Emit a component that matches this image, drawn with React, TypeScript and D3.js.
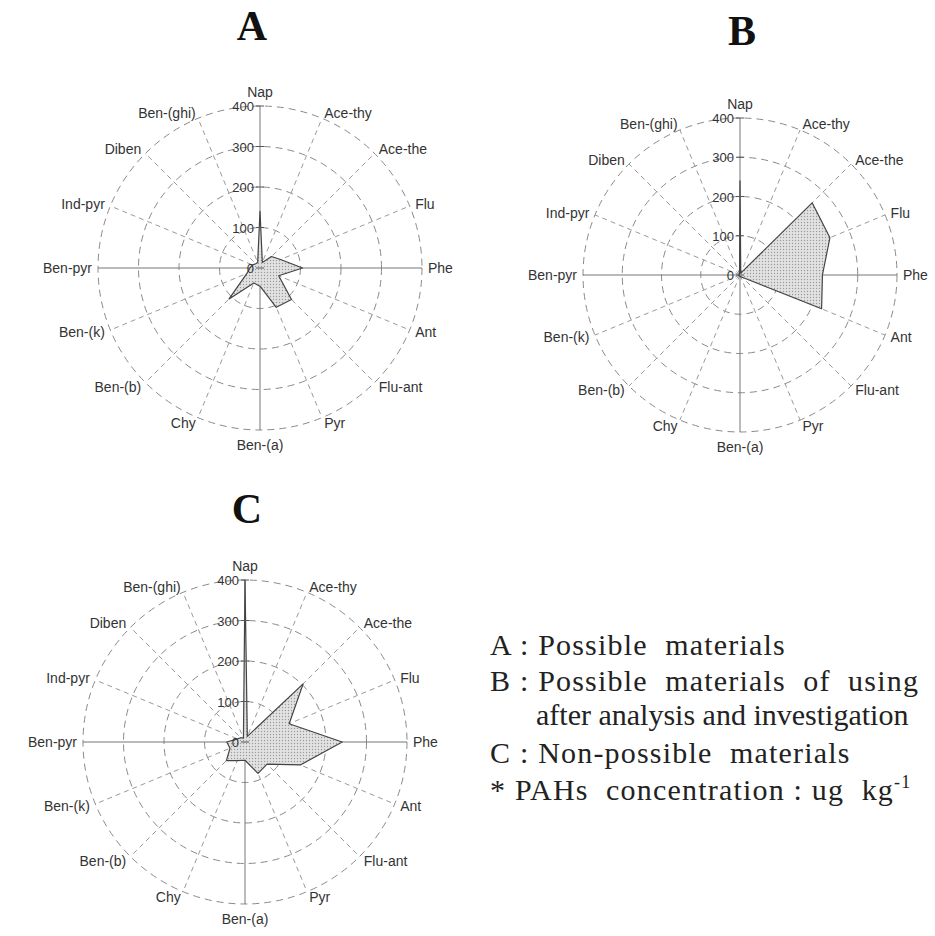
import { useEffect } from 'react'
import * as d3 from 'd3'

// PAH compounds, clockwise from the top
const compounds = ['Nap', 'Ace-thy', 'Ace-the', 'Flu', 'Phe', 'Ant', 'Flu-ant', 'Pyr', 'Ben-(a)', 'Chy', 'Ben-(b)', 'Ben-(k)', 'Ben-pyr', 'Ind-pyr', 'Diben', 'Ben-(ghi)']

// concentrations (ug/kg)
const valuesA = [140, 15, 40, 55, 105, 50, 110, 105, 45, 40, 108, 35, 25, 20, 15, 15]
const valuesB = [240, 5, 260, 248, 210, 225, 8, 5, 3, 2, 3, 2, 3, 2, 2, 3]
const valuesC = [400, 15, 203, 118, 240, 148, 77, 84, 45, 50, 65, 40, 45, 20, 15, 10]

const ringTicks = [0, 100, 200, 300, 400]
const panelTitles = ['A', 'B', 'C']

const legendLines = [
  { key: 'A', text: 'Possible  materials' },
  { key: 'B', text: 'Possible  materials  of  using' },
  { key: '', text: 'after analysis and investigation' },
  { key: 'C', text: 'Non-possible  materials' },
]

const sans = "'Liberation Sans', Arial, sans-serif"
const serif = "'Liberation Serif', 'Times New Roman', serif"

function RadarPanel({ cx, cy, R, values, title, titleX, titleY }) {
  const n = compounds.length
  const rScale = d3.scaleLinear().domain([0, 400]).range([0, R])
  const angle = d3.scaleLinear().domain([0, n]).range([0, 2 * Math.PI])

  const area = d3
    .lineRadial()
    .angle((_, i) => angle(i))
    .radius((d) => rScale(d))
    .curve(d3.curveLinearClosed)

  return (
    <g>
      <text x={titleX} y={titleY} textAnchor="middle" fontFamily={serif} fontWeight="bold" fontSize={42} fill="#111">
        {title}
      </text>
      <g transform={`translate(${cx},${cy})`}>
        {/* rings */}
        {ringTicks.slice(1).map((t) => (
          <circle key={t} r={rScale(t)} fill="none" stroke="#8a8a8a" strokeWidth={1} strokeDasharray="7,5" />
        ))}
        {/* spokes */}
        {compounds.map((c, i) => {
          const a = angle(i)
          const main = i % 4 === 0
          return (
            <line
              key={c}
              x1={0}
              y1={0}
              x2={R * Math.sin(a)}
              y2={-R * Math.cos(a)}
              stroke={main ? '#777' : '#9a9a9a'}
              strokeWidth={1}
              strokeDasharray={main ? null : '5,4'}
            />
          )
        })}
        {/* data polygon */}
        <path d={area(values)} fill="url(#dots)" stroke="#444" strokeWidth={1.2} strokeLinejoin="round" />
        {/* axis ticks */}
        {ringTicks.map((t) => (
          <g key={t}>
            <line x1={-4} x2={4} y1={-rScale(t)} y2={-rScale(t)} stroke="#555" strokeWidth={1} />
            <text x={-6} y={-rScale(t) + 5} textAnchor="end" fontFamily={sans} fontSize={13} fill="#333">
              {t}
            </text>
          </g>
        ))}
        {/* compound labels */}
        {compounds.map((c, i) => {
          const a = angle(i)
          const s = Math.sin(a)
          const co = Math.cos(a)
          let anchor = 'middle'
          if (s > 0.01) anchor = 'start'
          else if (s < -0.01) anchor = 'end'
          const r = R + 6
          const x = r * s
          let y = -r * co + 5
          if (anchor === 'middle') y = co > 0 ? -R - 9 : R + 20
          return (
            <text key={c} x={x} y={y} textAnchor={anchor} fontFamily={sans} fontSize={14} fill="#333">
              {c}
            </text>
          )
        })}
      </g>
    </g>
  )
}

export default function App() {
  useEffect(() => {
    document.body.style.margin = '0'
  }, [])

  const legendX = 490
  const legendY = [655, 691, 725, 763]

  return (
    <svg width={935} height={936} style={{ display: 'block', background: '#fff' }}>
      <defs>
        <pattern id="dots" width={3} height={3} patternUnits="userSpaceOnUse">
          <rect width={3} height={3} fill="#e2e2e2" />
          <circle cx={1.5} cy={1.5} r={0.7} fill="#9a9a9a" />
        </pattern>
      </defs>

      <RadarPanel cx={260} cy={268} R={162} values={valuesA} title={panelTitles[0]} titleX={252} titleY={40} />
      <RadarPanel cx={740} cy={275} R={157} values={valuesB} title={panelTitles[1]} titleX={742} titleY={45} />
      <RadarPanel cx={245} cy={742} R={162} values={valuesC} title={panelTitles[2]} titleX={247} titleY={523} />

      <g fontFamily={serif} fontSize={30} fill="#222">
        {legendLines.map((l, i) => (
          <text
            key={i}
            x={l.key ? legendX : legendX + 46}
            y={legendY[i]}
            letterSpacing={l.key ? 1.2 : 0}
            style={{ whiteSpace: 'pre' }}
          >
            {l.key ? `${l.key} : ${l.text}` : l.text}
          </text>
        ))}
        <text x={legendX} y={800} letterSpacing={1.2} style={{ whiteSpace: 'pre' }}>
          {'* PAHs  concentration : ug  kg'}
          <tspan fontSize={18} dy={-12}>-1</tspan>
        </text>
      </g>
    </svg>
  )
}
